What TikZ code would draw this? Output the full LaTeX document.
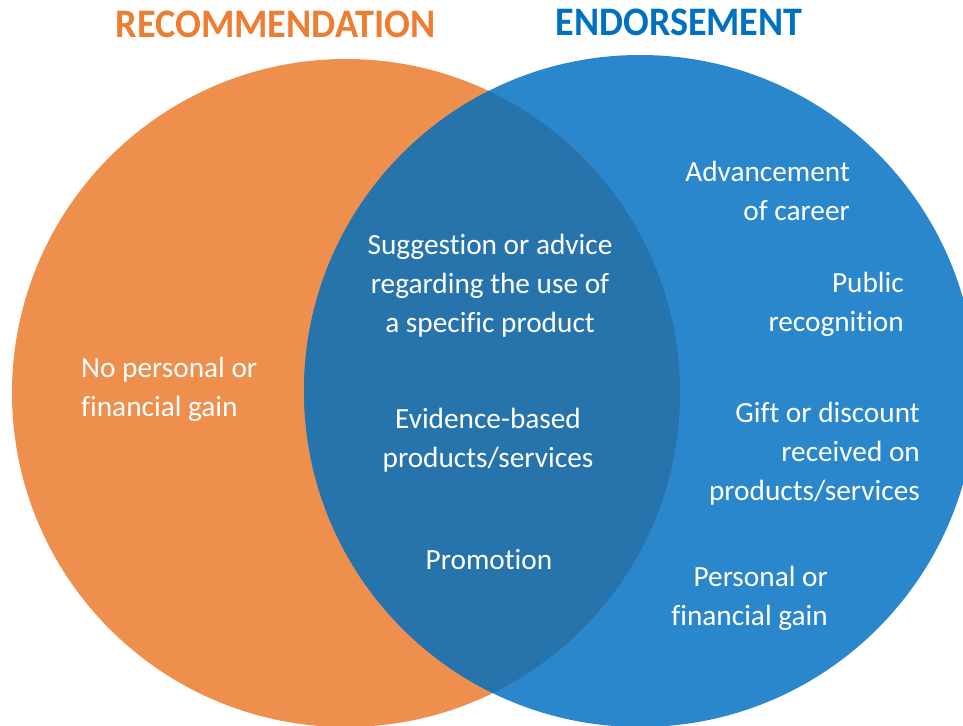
\documentclass[tikz,border=0pt]{standalone}
\usepackage{fontspec}
\setmainfont{Carlito}[Ligatures=NoCommon]
\definecolor{orfill}{HTML}{EF8F4D}
\definecolor{blfill}{HTML}{2A87CB}
\definecolor{ovfill}{HTML}{2773AC}
\definecolor{ortitle}{HTML}{ED7D31}
\definecolor{bltitle}{HTML}{0070C0}
\tikzset{
  lbl/.style={text=white, font=\fontsize{29.3}{39}\selectfont, inner sep=0pt},
  ttl/.style={font=\fontsize{40.5}{44}\selectfont\bfseries, inner sep=0pt},
}
\begin{document}
\begin{tikzpicture}[x=1pt,y=-1pt]
\useasboundingbox (0,0) rectangle (963,725);
\clip (0,0) rectangle (963,725);
\fill[orfill] (346,393) circle[radius=334];
\fill[blfill] (640,391) circle[radius=336];
\begin{scope}
  \clip (346,393) circle[radius=334];
  \fill[ovfill] (640,391) circle[radius=336];
\end{scope}
\node[ttl, text=ortitle] (t1) at (275.5,24) {\scalebox{0.945}[1]{RECOMMENDATION}};
\node[ttl, text=bltitle] (t2) at (679,22) {\scalebox{0.94}[1]{ENDORSEMENT}};
\node[lbl, align=center] (c1) at (490,286) {Suggestion or advice\\regarding the use of\\a specific product};
\node[lbl, align=center] (c2) at (488,440.5) {Evidence-based\\products/services};
\node[lbl, align=center] (c3) at (489,560) {Promotion};
\node[lbl, align=left, anchor=west] (l1) at (81,389.5) {No personal or\\financial gain};
\node[lbl, align=right, anchor=east] (r1) at (850,190.5) {Advancement\\of career};
\node[lbl, align=right, anchor=east] (r2) at (904,304.5) {Public\\recognition};
\node[lbl, align=right, anchor=east] (r3) at (920,454) {Gift or discount\\received on\\products/services};
\node[lbl, align=right, anchor=east] (r4) at (828,598) {Personal or\\financial gain};
\end{tikzpicture}
\end{document}
